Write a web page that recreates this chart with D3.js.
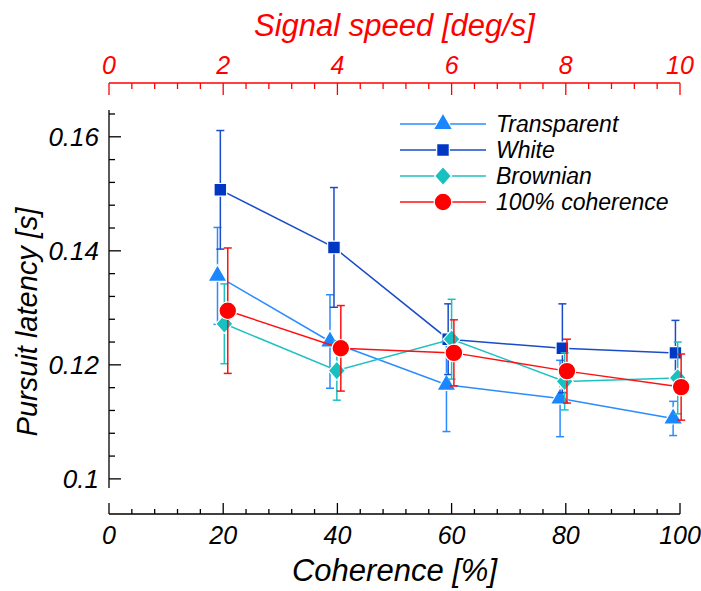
<!DOCTYPE html>
<html>
<head>
<meta charset="utf-8">
<script src="https://d3js.org/d3.v7.min.js"></script>
<style>
  body { margin: 0; background: #fff; }
  text { font-family: "Liberation Sans", Arial, sans-serif; font-style: italic; }
</style>
</head>
<body>
<div id="chart"></div>
<script>
// coherence levels (x, %) per series, with the small horizontal offsets seen in the figure
const xTransparent = [19.0, 38.7, 59.1, 79.0, 98.8];
const xWhite = [19.5, 39.4, 59.4, 79.4, 99.2];
const xBrownian = [20.2, 39.9, 60.0, 79.8, 99.6];
const xFull = [20.8, 40.6, 60.4, 80.2, 100.2];

// pursuit latency [s] and error (half length of bar)
const transparent = [0.1356, 0.1241, 0.1165, 0.1141, 0.1106];
const transparentErr = [0.0085, 0.0082, 0.0082, 0.0067, 0.0030];
const white = [0.1507, 0.1406, 0.1245, 0.1229, 0.1221];
const whiteErr = [0.0104, 0.0105, 0.0062, 0.0078, 0.0057];
const brownian = [0.1272, 0.1190, 0.1245, 0.1171, 0.1177];
const brownianErr = [0.0070, 0.0052, 0.0070, 0.0050, 0.0063];
const full = [0.1295, 0.1229, 0.1221, 0.1189, 0.1161];
const fullErr = [0.0110, 0.0075, 0.0058, 0.0056, 0.0058];

const seriesNames = ["Transparent", "White", "Brownian", "100% coherence"];
const yTicks = [0.1, 0.12, 0.14, 0.16];
const xTicks = [0, 20, 40, 60, 80, 100];
const speedTicks = [0, 2, 4, 6, 8, 10];

const W = 701, H = 591;
const svg = d3.select("#chart").append("svg").attr("width", W).attr("height", H);

const x = d3.scaleLinear().domain([0, 100]).range([109, 680]);
const xTop = d3.scaleLinear().domain([0, 10]).range([109, 680]);
const y = d3.scaleLinear().domain([0.0984, 0.1647]).range([488, 110]);

const series = [
  { name: seriesNames[0], xs: xTransparent, v: transparent, e: transparentErr, color: "#1a87ff", line: "#2a8cff", shape: "triangle" },
  { name: seriesNames[1], xs: xWhite, v: white, e: whiteErr, color: "#0038c4", line: "#1a4cc8", shape: "square" },
  { name: seriesNames[2], xs: xBrownian, v: brownian, e: brownianErr, color: "#18c0c0", line: "#20c0c0", shape: "diamond" },
  { name: seriesNames[3], xs: xFull, v: full, e: fullErr, color: "#ff0000", line: "#ff1010", shape: "circle" }
];

function marker(g, shape, cx, cy, color) {
  let p;
  if (shape === "triangle") {
    p = g.append("path").attr("d", d3.symbol(d3.symbolTriangle, 160)());
  } else if (shape === "square") {
    p = g.append("path").attr("d", d3.symbol(d3.symbolSquare, 160)());
  } else if (shape === "diamond") {
    p = g.append("path").attr("d", "M0,-9.5L8.5,0L0,9.5L-8.5,0Z");
  } else {
    p = g.append("circle").attr("r", 8.8);
  }
  p.attr("transform", `translate(${cx},${cy})`)
    .attr("fill", color).attr("stroke", "#fff").attr("stroke-width", 1.2);
}

// axes
const ax = svg.append("g").attr("stroke", "#000").attr("stroke-width", 1.3);
// left axis
const lx = x(0);
ax.append("line").attr("x1", lx).attr("x2", lx).attr("y1", y.range()[0]).attr("y2", y.range()[1]);
d3.range(0.1, 0.1645, 0.004).forEach((t, i) => {
  ax.append("line").attr("x1", lx).attr("x2", lx + (i % 5 === 0 ? 12 : 6))
    .attr("y1", y(t)).attr("y2", y(t));
});
svg.selectAll(".ylab").data(yTicks).enter().append("text")
  .attr("x", 99).attr("y", d => y(d) + 9).attr("text-anchor", "end")
  .attr("font-size", 26).text(d => +d.toFixed(2));

// bottom axis
const by = 514;
ax.append("line").attr("x1", x(0)).attr("x2", x(100)).attr("y1", by).attr("y2", by);
d3.range(0, 101, 4).forEach((t, i) => {
  ax.append("line").attr("x1", x(t)).attr("x2", x(t))
    .attr("y1", by).attr("y2", by - (i % 5 === 0 ? 11 : 5));
});
svg.selectAll(".xlab").data(xTicks).enter().append("text")
  .attr("x", d => x(d)).attr("y", by + 30).attr("text-anchor", "middle")
  .attr("font-size", 25).text(d => d);
svg.append("text").attr("x", (x(0) + x(100)) / 2).attr("y", 581).attr("text-anchor", "middle")
  .attr("font-size", 31).text("Coherence [%]");

// top axis (red)
const ty = 83;
const at = svg.append("g").attr("stroke", "#ff0000").attr("stroke-width", 1.3);
at.append("line").attr("x1", xTop(0)).attr("x2", xTop(10)).attr("y1", ty).attr("y2", ty);
d3.range(0, 10.01, 0.4).forEach((t, i) => {
  at.append("line").attr("x1", xTop(t)).attr("x2", xTop(t))
    .attr("y1", ty).attr("y2", ty + (i % 5 === 0 ? 12 : 6));
});
svg.selectAll(".tlab").data(speedTicks).enter().append("text")
  .attr("x", d => xTop(d)).attr("y", ty - 9).attr("text-anchor", "middle")
  .attr("font-size", 25).attr("fill", "#ff0000").text(d => d);
svg.append("text").attr("x", (x(0) + x(100)) / 2).attr("y", 36).attr("text-anchor", "middle")
  .attr("font-size", 31).attr("fill", "#ff0000").text("Signal speed [deg/s]");

// y title
svg.append("text").attr("transform", "translate(37,322) rotate(-90)")
  .attr("text-anchor", "middle").attr("font-size", 29).text("Pursuit latency [s]");

// data
series.forEach(s => {
  const g = svg.append("g");
  const pts = s.v.map((v, i) => [s.xs[i], v, s.e[i]]);
  g.append("path").datum(pts)
    .attr("d", d3.line().x(d => x(d[0])).y(d => y(d[1])))
    .attr("fill", "none").attr("stroke", s.line).attr("stroke-width", 1.5);
  pts.forEach(d => {
    const cx = x(d[0]);
    g.append("line").attr("x1", cx).attr("x2", cx).attr("y1", y(d[1] - d[2])).attr("y2", y(d[1] + d[2]))
      .attr("stroke", s.line).attr("stroke-width", 1.5);
    [d[1] - d[2], d[1] + d[2]].forEach(e => {
      g.append("line").attr("x1", cx - 4).attr("x2", cx + 4).attr("y1", y(e)).attr("y2", y(e))
        .attr("stroke", s.line).attr("stroke-width", 1.5);
    });
  });
  pts.forEach(d => marker(g, s.shape, x(d[0]), y(d[1]), s.color));
});

// legend
const lg = svg.append("g");
series.forEach((s, i) => {
  const ly = 124 + i * 26;
  lg.append("line").attr("x1", 400).attr("x2", 486).attr("y1", ly).attr("y2", ly)
    .attr("stroke", s.line).attr("stroke-width", 1.5);
  marker(lg, s.shape, 443, ly, s.color);
  lg.append("text").attr("x", 496).attr("y", ly + 8).attr("font-size", 23).text(s.name);
});
</script>
</body>
</html>
